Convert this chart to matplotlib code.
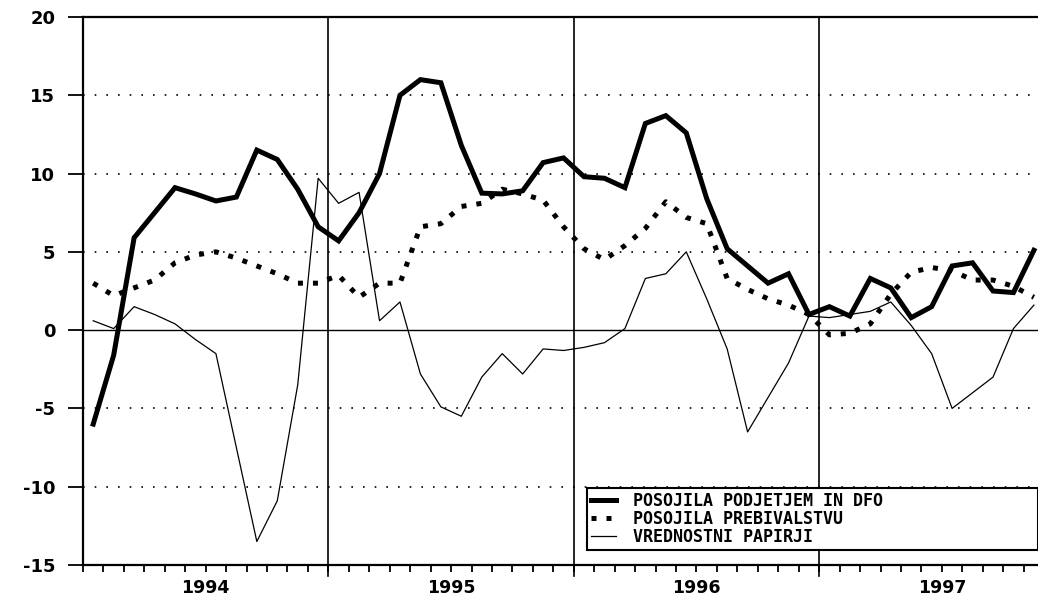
import matplotlib
matplotlib.use("Agg")
import matplotlib.pyplot as plt
import numpy as np

# Monthly data, Jan 1994 .. Nov 1997
years = ["1994", "1995", "1996", "1997"]
podjetja = [-6.0, -1.6, 5.9, 7.5, 9.1, 8.7, 8.25, 8.5, 11.5, 10.9, 9.0, 6.6,
            5.7, 7.5, 10.0, 15.0, 16.0, 15.8, 11.8, 8.75, 8.7, 8.9, 10.7, 11.0,
            9.8, 9.7, 9.1, 13.2, 13.7, 12.6, 8.4, 5.2, 4.1, 3.0, 3.6, 1.0,
            1.5, 0.9, 3.3, 2.7, 0.8, 1.5, 4.1, 4.3, 2.5, 2.4, 5.1]
prebivalstvo = [3.0, 2.2, 2.7, 3.2, 4.3, 4.8, 5.0, 4.6, 4.1, 3.6, 3.0, 3.0,
                3.5, 2.1, 3.0, 3.0, 6.6, 6.8, 7.9, 8.1, 9.0, 8.7, 8.3, 6.6,
                5.2, 4.5, 5.4, 6.5, 8.2, 7.2, 6.8, 3.3, 2.6, 2.0, 1.6, 1.0,
                -0.3, -0.2, 0.4, 2.3, 3.7, 4.0, 3.8, 3.2, 3.2, 2.8, 2.1]
papirji = [0.6, 0.1, 1.5, 1.0, 0.4, -0.6, -1.5, -7.5, -13.5, -10.9, -3.5, 9.7,
           8.1, 8.8, 0.6, 1.8, -2.8, -4.9, -5.5, -3.0, -1.5, -2.8, -1.2, -1.3,
           -1.1, -0.8, 0.1, 3.3, 3.6, 5.0, 2.0, -1.2, -6.5, -4.3, -2.1, 0.9,
           0.8, 1.0, 1.2, 1.8, 0.3, -1.5, -5.0, -4.0, -3.0, 0.1, 1.6]
labels = ["POSOJILA PODJETJEM IN DFO", "POSOJILA PREBIVALSTVU", "VREDNOSTNI PAPIRJI"]
yticks = [-15, -10, -5, 0, 5, 10, 15, 20]

x = np.arange(len(podjetja)) + 0.5

W, H = 1038, 600
fig = plt.figure(figsize=(W / 100, H / 100), dpi=100)
ax = fig.add_axes([83 / W, 1 - 565 / H, 955 / W, 548 / H])

ax.set_xlim(0, 46.7)
ax.set_ylim(-15, 20)

# grid lines
for v in [15, 10, 5, -5, -10]:
    ax.axhline(v, color="black", lw=1.2, linestyle=(0, (1, 6)), zorder=1)
ax.axhline(0, color="black", lw=1.0, zorder=1)
for xv in [12, 24, 36]:
    ax.axvline(xv, ymin=-0.02, ymax=1, color="black", lw=1.2, zorder=1, clip_on=False)

l3, = ax.plot(x, papirji, color="black", lw=0.9, zorder=3)
l2, = ax.plot(x, prebivalstvo, color="black", lw=3.6, linestyle=(0, (1, 2)),
              dash_capstyle="butt", zorder=4)
l1, = ax.plot(x, podjetja, color="black", lw=3.6, solid_joinstyle="miter", zorder=5)

for s in ["left", "top", "bottom"]:
    ax.spines[s].set_linewidth(1.6)
ax.spines["right"].set_visible(False)

ax.set_yticks(yticks)
ax.set_yticklabels([str(t) for t in yticks], fontsize=13, fontweight="bold",
                   family="DejaVu Sans")
ax.tick_params(axis="y", direction="out", length=11, width=1.3, pad=9)

ax.xaxis.remove_overlapping_locs = False
ax.set_xticks(np.arange(0, 47, 1))
ax.set_xticklabels([])
ax.tick_params(axis="x", which="major", direction="out", length=5, width=1.3)
ax.set_xticks([6, 18, 30, 42], minor=True)
ax.set_xticklabels(years, minor=True, fontsize=12.5, fontweight="bold", family="DejaVu Sans")
ax.tick_params(axis="x", which="minor", length=0, pad=10)

leg = ax.legend([l1, l2, l3], labels, loc="lower left",
                bbox_to_anchor=(504 / 955, 15 / 548, 451 / 955, 59 / 548),
                mode="expand", borderaxespad=0, fancybox=False, framealpha=1,
                edgecolor="black", prop={"family": "DejaVu Sans Mono", "weight": "bold", "size": 12},
                handlelength=1.5, handletextpad=1.0, labelspacing=0.0,
                borderpad=0.25, frameon=True)
leg.get_frame().set_linewidth(1.5)
leg.set_zorder(10)

fig.savefig("out.png", dpi=100, facecolor="white")
